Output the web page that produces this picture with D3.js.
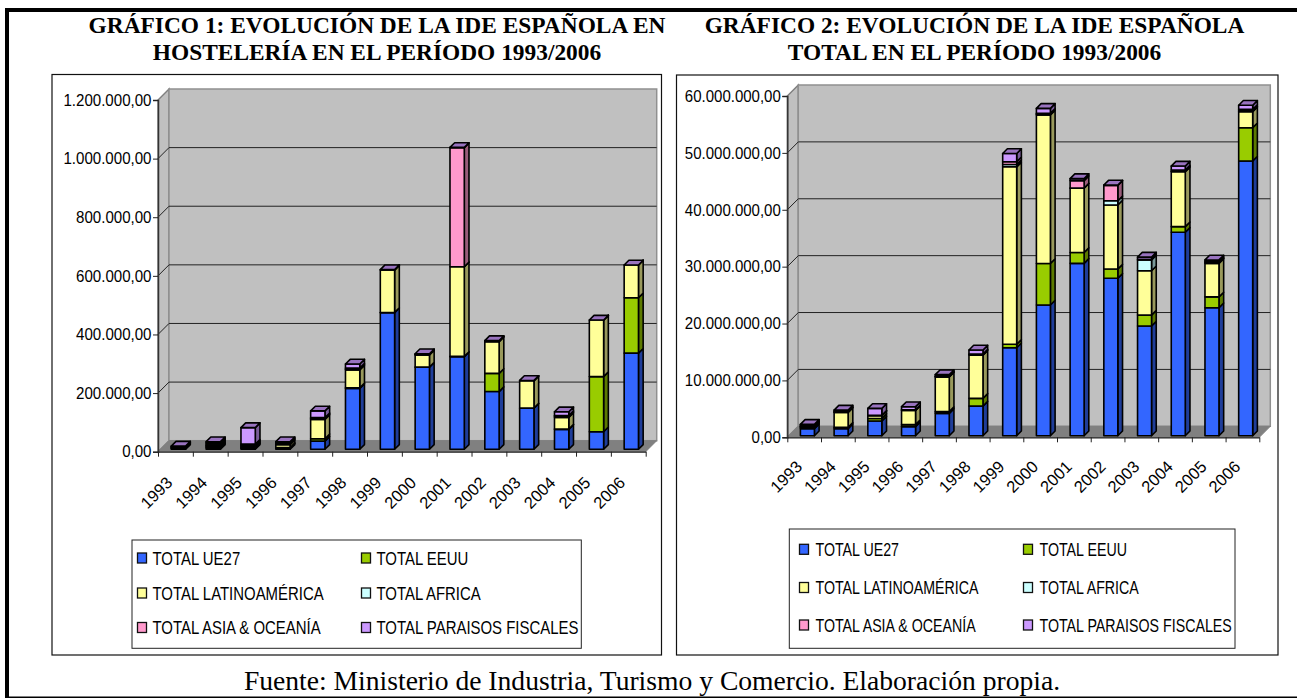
<!DOCTYPE html>
<html lang="es">
<head>
<meta charset="utf-8">
<title>Evolución de la IDE española 1993/2006</title>
<script src="https://cdn.jsdelivr.net/npm/d3@7/dist/d3.min.js"></script>
<style>
  html, body { margin: 0; padding: 0; background: #fff; }
  svg { display: block; }
  .sans { font-family: "Liberation Sans", Arial, sans-serif; fill: #000; }
  .serif { font-family: "Liberation Serif", "Times New Roman", serif; fill: #000; }
</style>
</head>
<body>
<svg id="page" width="1297" height="698"></svg>
<script>
// Years and the regional groups shared by both charts
const years = ["1993","1994","1995","1996","1997","1998","1999","2000","2001","2002","2003","2004","2005","2006"];
const seriesNames = ["TOTAL UE27","TOTAL EEUU","TOTAL LATINOAMÉRICA","TOTAL AFRICA","TOTAL ASIA & OCEANÍA","TOTAL PARAISOS FISCALES"];
const seriesColors = ["#3366FF","#99CC00","#FFFF99","#CCFFFF","#FF99CC","#CC99FF"];

// Chart 1: hospitality investment, by group and year
const hostUE27   = [2000,5000,3500,4000,28000,208000,466000,280000,316000,197000,140000,68000,60000,328000];
const hostEEUU   = [2000,4000,3500,2000,8000,2000,1000,1000,1000,62000,1000,1000,188000,189000];
const hostLatam  = [2000,5000,3500,10000,66000,61000,145000,41000,306000,108000,93000,40000,193000,112000];
const hostAfrica = [1500,4000,3500,3000,3000,3000,0,1000,0,1000,0,3000,0,0];
const hostAsia   = [1500,4000,3500,3000,3000,3000,0,1000,406000,1000,0,3000,0,0];
const hostFiscal = [2000,4000,56500,4000,23000,14000,1000,2000,1000,2000,1000,13000,0,0];

// Chart 2: total investment, by group and year
const totalUE27   = [1230000,1230000,2580000,1600000,3930000,5200000,15470000,22980000,30300000,27670000,19280000,35760000,22500000,48300000];
const totalEEUU   = [200000,250000,450000,350000,300000,1370000,600000,7300000,1900000,1630000,1920000,990000,1900000,5850000];
const totalLatam  = [200000,2620000,470000,2500000,6100000,7600000,31200000,26100000,11300000,11260000,7800000,9650000,5900000,2810000];
const totalAfrica = [50000,50000,50000,50000,50000,100000,400000,100000,50000,740000,1900000,100000,100000,100000];
const totalAsia   = [100000,100000,50000,50000,50000,100000,500000,200000,1300000,2700000,100000,200000,200000,300000];
const totalFiscal = [220000,250000,1200000,550000,300000,700000,1450000,870000,350000,70000,400000,700000,300000,740000];

const titleOne = ["GRÁFICO 1: EVOLUCIÓN DE LA IDE ESPAÑOLA EN","HOSTELERÍA EN EL PERÍODO 1993/2006"];
const titleTwo = ["GRÁFICO 2: EVOLUCIÓN DE LA IDE ESPAÑOLA","TOTAL EN EL PERÍODO 1993/2006"];
const sourceNote = "Fuente: Ministerio de Industria, Turismo y Comercio. Elaboración propia.";

const svg = d3.select("#page");
const esFormat = d3.formatLocale({decimal: ",", thousands: ".", grouping: [3], currency: ["", " €"]}).format(",.2f");

// Excel-style shading of the faces that turn away from the viewer
const shade = (c, k) => {
  const r = d3.rgb(c);
  return d3.rgb(r.r * k, r.g * k, r.b * k).formatHex();
};

function toRows(cols) {
  return years.map((year, i) => {
    const row = {year};
    seriesNames.forEach((name, j) => { row[name] = cols[j][i]; });
    return row;
  });
}

function drawChart(cfg) {
  const g = svg.append("g");
  const {panel, plot, legend} = cfg;

  // chart frame
  g.append("rect")
    .attr("x", panel.x0).attr("y", panel.y0)
    .attr("width", panel.x1 - panel.x0).attr("height", panel.y1 - panel.y0)
    .attr("fill", "#fff").attr("stroke", "#111").attr("stroke-width", 1.2);

  const x = d3.scaleBand().domain(years).range([plot.x0, plot.x1]);
  const edges = d3.scaleLinear().domain([0, years.length]).range([plot.x0, plot.x1]);
  const y = d3.scaleLinear().domain([0, cfg.max]).range([plot.y0, plot.y1]);
  const d = plot.depth;

  const pts = p => p.map(q => q.join(",")).join(" ");

  // side wall, back wall, floor
  g.append("polygon")
    .attr("points", pts([[plot.x0, plot.y0],[plot.x0 + d, plot.y0 - d],[plot.x0 + d, plot.y1 - d],[plot.x0, plot.y1]]))
    .attr("fill", "#C0C0C0").attr("stroke", "#808080").attr("stroke-width", 1.5);
  g.append("rect")
    .attr("x", plot.x0 + d).attr("y", plot.y1 - d)
    .attr("width", plot.x1 - plot.x0).attr("height", plot.y0 - plot.y1)
    .attr("fill", "#C0C0C0").attr("stroke", "#909090").attr("stroke-width", 1.5);
  g.append("polygon")
    .attr("points", pts([[plot.x0, plot.y0],[plot.x1, plot.y0],[plot.x1 + d, plot.y0 - d],[plot.x0 + d, plot.y0 - d]]))
    .attr("fill", "#808080").attr("stroke", "#808080").attr("stroke-width", 1);

  // gridlines on the back wall and their links to the value axis
  const gridTicks = y.ticks(6);
  g.append("g").selectAll("line").data(gridTicks.filter(t => t > 0 && t < cfg.max)).join("line")
    .attr("x1", plot.x0 + d).attr("x2", plot.x1 + d)
    .attr("y1", t => y(t) - d).attr("y2", t => y(t) - d)
    .attr("stroke", "#222").attr("stroke-width", 1);
  g.append("g").selectAll("line").data(gridTicks.filter(t => t > 0 && t < cfg.max)).join("line")
    .attr("x1", plot.x0).attr("x2", plot.x0 + d)
    .attr("y1", t => y(t)).attr("y2", t => y(t) - d)
    .attr("stroke", "#222").attr("stroke-width", 1);

  // stacked prisms
  const stacked = d3.stack().keys(seriesNames)(toRows(cfg.cols));
  const bw = cfg.bar.width, bd = cfg.bar.depth;
  const barX = yr => x(yr) + cfg.bar.offset;
  const barY = v => y(v) - cfg.bar.lift;
  const barG = g.append("g").attr("stroke", "#000").attr("stroke-width", 1.6).attr("stroke-linejoin", "round");
  years.forEach((yr, i) => {
    const cell = barG.append("g");
    stacked.forEach((layer, s) => {
      const [v0, v1] = layer[i];
      const color = seriesColors[s];
      const x0 = barX(yr), x1 = x0 + bw, yb = barY(v0), yt = barY(v1);
      cell.append("polygon")
        .attr("points", pts([[x1, yb],[x1 + bd, yb - bd],[x1 + bd, yt - bd],[x1, yt]]))
        .attr("fill", shade(color, 0.6));
      cell.append("rect")
        .attr("x", x0).attr("y", yt).attr("width", bw).attr("height", yb - yt)
        .attr("fill", color);
      if (s === stacked.length - 1) {
        cell.append("polygon")
          .attr("points", pts([[x0, yt],[x1, yt],[x1 + bd, yt - bd],[x0 + bd, yt - bd]]))
          .attr("fill", shade(color, 0.75));
      }
    });
  });

  // value axis, its labels condensed horizontally
  const yAxis = g.append("g")
    .attr("transform", `translate(${plot.x0},0)`)
    .call(d3.axisLeft(y).tickValues(gridTicks).tickFormat(esFormat).tickSize(5).tickPadding(2));
  yAxis.select(".domain").attr("stroke", "#333").attr("stroke-width", 1.5);
  yAxis.selectAll(".tick line").attr("stroke", "#222");
  yAxis.selectAll("text")
    .attr("class", "sans")
    .attr("x", -6.5)
    .attr("transform", `translate(-6.5,0) scale(${cfg.axisStretch},1) translate(6.5,0)`)
    .style("font-size", "16.5px").attr("fill", "#111");

  // category axis: tick marks sit between the years, labels under each year
  const xTicks = g.append("g")
    .attr("transform", `translate(0,${plot.y0})`)
    .call(d3.axisBottom(edges).tickValues(d3.range(years.length + 1)).tickFormat("").tickSize(5).tickSizeOuter(0));
  xTicks.select(".domain").attr("stroke", "#222").attr("stroke-width", 1.2);
  xTicks.selectAll(".tick line").attr("stroke", "#222");

  const xLabels = g.append("g")
    .attr("transform", `translate(0,${plot.y0})`)
    .call(d3.axisBottom(x).tickSize(0));
  xLabels.select(".domain").remove();
  xLabels.selectAll("text")
    .attr("class", "sans")
    .attr("text-anchor", "end")
    .attr("dy", 0).attr("y", 0)
    .attr("transform", `translate(${cfg.labelDx},${cfg.labelDy}) rotate(-45)`)
    .style("font-size", "16.5px").attr("fill", "#111");

  // legend
  const lg = g.append("g");
  lg.append("rect")
    .attr("x", legend.x0).attr("y", legend.y0)
    .attr("width", legend.x1 - legend.x0).attr("height", legend.y1 - legend.y0)
    .attr("fill", "#fff").attr("stroke", "#222").attr("stroke-width", 1);
  const item = lg.selectAll("g").data(seriesNames).join("g")
    .attr("transform", (n, i) => `translate(${legend.cols[i % 2]},${legend.rows[Math.floor(i / 2)]})`);
  item.append("rect")
    .attr("x", 0).attr("y", -5).attr("width", 9).attr("height", 10)
    .attr("fill", (n, i) => seriesColors[i])
    .attr("stroke", "#111").attr("stroke-width", 1.3);
  item.append("text")
    .attr("class", "sans")
    .attr("transform", `translate(${legend.textGap},6.5) scale(${legend.stretch},1)`)
    .style("font-size", "18px")
    .text(n => n);

  // heading
  const heading = svg.append("g").attr("class", "serif")
    .style("font-size", cfg.titleSize + "px").style("font-weight", "bold").attr("text-anchor", "middle");
  cfg.title.forEach((line, i) => {
    heading.append("text").attr("x", cfg.titleX).attr("y", 32.7 + i * 27.3).text(line);
  });
}

drawChart({
  panel: {x0: 52, y0: 74.5, x1: 661.5, y1: 655},
  plot: {x0: 158, x1: 645.7, y0: 451.7, y1: 100, depth: 11},
  bar: {width: 14.3, depth: 4.7, offset: 13.3, lift: 2.4},
  max: 1200000,
  cols: [hostUE27, hostEEUU, hostLatam, hostAfrica, hostAsia, hostFiscal],
  axisStretch: 0.915,
  labelDx: -2, labelDy: 32,
  legend: {x0: 132, y0: 540, x1: 581.3, y1: 648.3, cols: [137.5, 361.5], rows: [558, 593, 627.5], textGap: 15, stretch: 0.83},
  title: titleOne, titleX: 377, titleSize: 23.4
});

drawChart({
  panel: {x0: 676.5, y0: 75, x1: 1278, y1: 655},
  plot: {x0: 787.3, x1: 1259.3, y0: 437.3, y1: 96, depth: 11},
  bar: {width: 14, depth: 4.7, offset: 13.1, lift: 1.6},
  max: 60000000,
  cols: [totalUE27, totalEEUU, totalLatam, totalAfrica, totalAsia, totalFiscal],
  axisStretch: 0.91,
  labelDx: -0.9, labelDy: 30.5,
  legend: {x0: 789.3, y0: 529, x1: 1235, y1: 648.3, cols: [799.5, 1023.5], rows: [549.3, 587.5, 625], textGap: 16, stretch: 0.79},
  title: titleTwo, titleX: 974.5, titleSize: 23.4
});

// source line and outer rules of the page
svg.append("text").attr("class", "serif")
  .attr("x", 652).attr("y", 690).attr("text-anchor", "middle")
  .style("font-size", "27.6px")
  .text(sourceNote);

const rule = svg.append("g").attr("fill", "#000");
rule.append("rect").attr("x", 5).attr("y", 8).attr("width", 1292).attr("height", 4);
rule.append("rect").attr("x", 5).attr("y", 8).attr("width", 4).attr("height", 690);
rule.append("rect").attr("x", 5).attr("y", 696.5).attr("width", 1292).attr("height", 1.5);
</script>
</body>
</html>
